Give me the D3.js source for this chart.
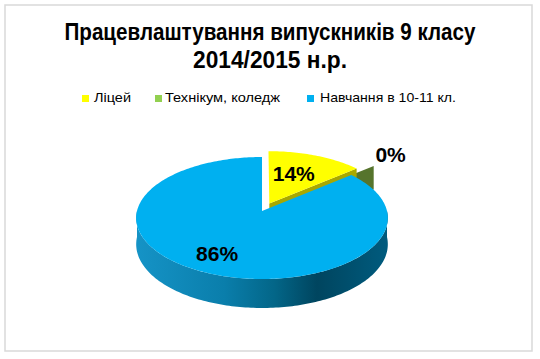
<!DOCTYPE html>
<html>
<head>
<meta charset="utf-8">
<script src="https://cdn.jsdelivr.net/npm/d3@7"></script>
<style>
  html, body { margin: 0; padding: 0; background: #ffffff; }
  svg { display: block; }
</style>
</head>
<body>
<div id="chart"></div>
<script>
// ---- data ----
const titleLines = ["Працевлаштування випускників 9 класу", "2014/2015 н.р."];
const categories = ["Ліцей", "Технікум, коледж", "Навчання в 10-11 кл."];
const values = [14, 0, 86];
const colors = ["#FFFF00", "#92D050", "#00B0F0"];

// ---- layout / style ----
const W = 540, H = 359;
const explode = [0.14, 0.28, 0];          // explosion (fraction of radius)
const faceColors = ["#a8a800", "#56742c", "#0a6f96"];
const labelRadius = [0.5, 1.22, 0.78];
const labelDy = [-5, -5, -4];
const legendLayout = [
  {sq: 82, tx: 94, tw: 37},
  {sq: 155, tx: 165, tw: 115},
  {sq: 307, tx: 320, tw: 136}
];

const svg = d3.select("#chart").append("svg")
  .attr("width", W).attr("height", H);

// chart border
svg.append("rect")
  .attr("x", 5).attr("y", 5).attr("width", 527).attr("height", 346)
  .attr("fill", "#ffffff").attr("stroke", "#d9d9d9").attr("stroke-width", 1.5);

// title
const titleY = [40, 68];
const titleW = [411, 154];
svg.append("g").selectAll("text").data(titleLines).join("text")
  .attr("x", 270).attr("y", (d, i) => titleY[i])
  .attr("text-anchor", "middle")
  .attr("font-family", "'Liberation Sans', Arial, sans-serif")
  .attr("font-weight", "bold").attr("font-size", 23)
  .attr("textLength", (d, i) => titleW[i])
  .attr("lengthAdjust", "spacingAndGlyphs")
  .attr("fill", "#000")
  .text(d => d);

// legend
const lg = svg.append("g");
categories.forEach((c, i) => {
  lg.append("rect").attr("x", legendLayout[i].sq).attr("y", 95)
    .attr("width", 7).attr("height", 7).attr("fill", colors[i]);
  lg.append("text").attr("x", legendLayout[i].tx).attr("y", 102)
    .attr("font-family", "'Liberation Sans', Arial, sans-serif")
    .attr("font-size", 13.5).attr("fill", "#000")
    .attr("textLength", legendLayout[i].tw)
    .attr("lengthAdjust", "spacingAndGlyphs")
    .text(c);
});

// ---- 3D pie ----
const cx = 262, cy = 211, rx = 125, ry = 61, P = 0.115, D = 26;
function proj(X, Z, h) {
  const s = 1 - P * Z;
  return [cx + rx * X * s, cy - ry * Z * s + D * h * s];
}
const total = d3.sum(values);
const arcs = d3.pie().sort(null).startAngle(0).endAngle(2 * Math.PI)(values);

const defs = svg.append("defs");
const grad = defs.append("linearGradient").attr("id", "sideGrad")
  .attr("gradientUnits", "userSpaceOnUse")
  .attr("x1", cx - rx).attr("x2", cx + rx).attr("y1", 0).attr("y2", 0);
[[0, "#1593c6"], [0.35, "#0a7eab"], [0.55, "#036688"], [0.72, "#00455f"], [1, "#005b7e"]]
  .forEach(([o, c]) => grad.append("stop").attr("offset", o).attr("stop-color", c));

function arcPts(a0, a1, ox, oz, h) {
  const n = Math.max(2, Math.ceil(Math.abs(a1 - a0) / 0.02));
  const pts = [];
  for (let k = 0; k <= n; k++) {
    const a = a0 + (a1 - a0) * k / n;
    pts.push(proj(ox + Math.sin(a), oz + Math.cos(a), h));
  }
  return pts;
}
const line = d3.line();

const slices = arcs.map((a, i) => {
  const m = (a.startAngle + a.endAngle) / 2;
  return {i, a0: a.startAngle, a1: a.endAngle, m,
          ox: explode[i] * Math.sin(m), oz: explode[i] * Math.cos(m)};
});
const order = slices.slice().sort((p, q) => explode[q.i] - explode[p.i]);
const pieG = svg.append("g");

order.forEach(sl => {
  const g = pieG.append("g");
  const {i, a0, a1, ox, oz} = sl;
  // radial faces
  const face = (a) => {
    const pts = [proj(ox, oz, 0), proj(ox + Math.sin(a), oz + Math.cos(a), 0),
                 proj(ox + Math.sin(a), oz + Math.cos(a), 1), proj(ox, oz, 1)];
    g.append("path").attr("d", line(pts) + "Z").attr("fill", faceColors[i]);
  };
  if (Math.sin(a0) < -1e-6) face(a0);
  if (Math.sin(a1) > 1e-6) face(a1);
  // outer side (front half only)
  const lo = Math.max(a0, Math.PI / 2), hi = Math.min(a1, 3 * Math.PI / 2);
  if (hi > lo) {
    const pts = arcPts(lo, hi, ox, oz, 0).concat(arcPts(hi, lo, ox, oz, 1));
    g.append("path").attr("d", line(pts) + "Z")
      .attr("fill", i === 2 ? "url(#sideGrad)" : faceColors[i]);
  }
  // top face
  if (a1 - a0 > 1e-6) {
    const pts = [proj(ox, oz, 0)].concat(arcPts(a0, a1, ox, oz, 0));
    g.append("path").attr("d", line(pts) + "Z").attr("fill", colors[i]);
  }
});

// data labels
slices.forEach(sl => {
  const r = labelRadius[sl.i];
  const p = proj(sl.ox + r * Math.sin(sl.m), sl.oz + r * Math.cos(sl.m), 0);
  svg.append("text")
    .attr("x", p[0]).attr("y", p[1] + 7.5 + labelDy[sl.i])
    .attr("text-anchor", "middle")
    .attr("font-family", "'Liberation Sans', Arial, sans-serif")
    .attr("font-weight", "bold").attr("font-size", 21)
    .attr("fill", "#000")
    .text(Math.round(values[sl.i] / total * 100) + "%");
});
</script>
</body>
</html>
